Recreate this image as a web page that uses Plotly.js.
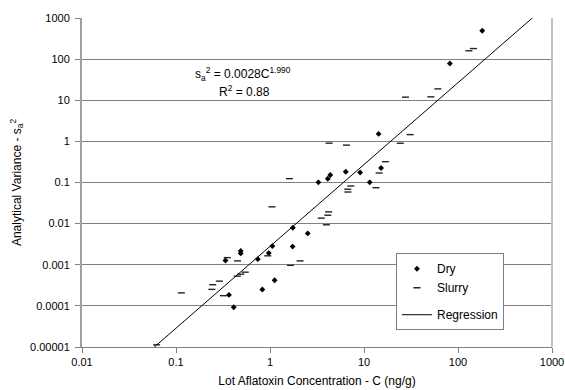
<!DOCTYPE html>
<html>
<head>
<meta charset="utf-8">
<script src="https://cdn.plot.ly/plotly-3.0.1.min.js"></script>
<style>html,body{margin:0;padding:0;background:#fff;}#chart{width:565px;height:390px;}</style>
</head>
<body>
<div id="chart"></div>
<script>
// Dry samples: lot concentration (ng/g) and analytical variance
const dryC = [181, 82, 14.3, 15.2, 9.09, 6.40, 4.38, 4.12, 3.27, 11.5, 2.52, 1.75, 1.74, 1.06, 0.97, 0.742, 0.488, 0.488, 0.336, 1.12, 0.829, 0.366, 0.411];
const dryVar = [491, 78.3, 1.52, 0.2255, 0.175, 0.183, 0.152, 0.123, 0.101, 0.101, 0.00579, 0.00792, 0.00276, 0.00284, 0.00192, 0.00137, 0.00217, 0.00189, 0.00127, 0.000421, 0.000250, 0.000185, 0.0000927];

// Slurry samples
const slurryC = [130.6, 146, 61.1, 51.4, 27.6, 31.0, 24.3, 4.25, 6.50, 16.9, 14.5, 13.4, 7.24, 6.72, 6.74, 1.61, 1.05, 4.20, 4.12, 3.51, 3.98, 0.946, 2.09, 1.65, 0.351, 0.451, 0.545, 0.488, 0.449, 0.289, 0.246, 0.241, 0.319, 0.114, 0.0622];
const slurryVar = [159.7, 180.7, 18.9, 12.1, 11.9, 1.46, 0.901, 0.906, 0.810, 0.321, 0.170, 0.0747, 0.0821, 0.0687, 0.0587, 0.124, 0.0256, 0.0193, 0.0160, 0.0136, 0.00938, 0.00165, 0.00124, 0.000967, 0.00149, 0.00124, 0.000660, 0.000590, 0.000528, 0.000399, 0.000327, 0.000252, 0.000177, 0.000207, 0.0000113];

// Regression s_a^2 = a * C^b
const regA = 0.0028;
const regB = 1.990;
const regC = [0.01, 1000];
const regVar = regC.map(c => regA * Math.pow(c, regB));

const xTicks = [0.01, 0.1, 1, 10, 100, 1000];
const xTickText = ['0.01', '0.1', '1', '10', '100', '1000'];
const yTicks = [0.00001, 0.0001, 0.001, 0.01, 0.1, 1, 10, 100, 1000];
const yTickText = ['0.00001', '0.0001', '0.001', '0.01', '0.1', '1', '10', '100', '1000'];

const font = 'Liberation Sans, Arial, sans-serif';

const traces = [
  {x: dryC, y: dryVar, type: 'scatter', mode: 'markers', name: 'Dry', legendgroup: 'a',
   marker: {symbol: 'diamond', size: 4.5, color: '#000'}},
  {x: slurryC, y: slurryVar, type: 'scatter', mode: 'markers', name: 'Slurry', legendgroup: 'a',
   marker: {symbol: 'line-ew', size: 5, line: {width: 1.4, color: '#222'}, color: '#222'}},
  {x: regC, y: regVar, type: 'scatter', mode: 'lines', name: 'Regression', legendgroup: 'b',
   line: {color: '#000', width: 1}}
];

const layout = {
  width: 565, height: 390,
  margin: {l: 82, r: 13, t: 18, b: 43},
  paper_bgcolor: '#fff', plot_bgcolor: '#fff',
  font: {family: font, size: 11, color: '#000'},
  showlegend: true,
  legend: {x: 0.668, y: 0.168, xanchor: 'left', yanchor: 'middle',
           bordercolor: '#808080', borderwidth: 1, bgcolor: '#fff',
           font: {family: font, size: 12, color: '#000'}, itemwidth: 30,
           traceorder: 'grouped', tracegroupgap: 8},
  xaxis: {type: 'log', range: [-2, 3], tickvals: xTicks, ticktext: xTickText,
          ticks: 'outside', ticklen: 5, tickcolor: '#808080',
          showgrid: false, zeroline: false,
          showline: true, linecolor: '#808080', linewidth: 1, mirror: false,
          title: {text: 'Lot Aflatoxin Concentration - C (ng/g)', font: {family: font, size: 12, color: '#000'}, standoff: 9}},
  yaxis: {type: 'log', range: [-5, 3], tickvals: yTicks, ticktext: yTickText,
          ticks: 'outside', ticklen: 5, tickcolor: '#808080', ticklabelstandoff: 3,
          showgrid: true, gridcolor: '#808080', gridwidth: 1, zeroline: false,
          showline: true, linecolor: '#a0a0a0', linewidth: 2, mirror: false,
          title: {text: 'Analytical Variance - s<sub>a</sub><sup>2</sup>', font: {family: font, size: 12, color: '#000'}, standoff: 6}},
  shapes: [
    {type: 'line', xref: 'paper', yref: 'paper', x0: 1, x1: 1, y0: 0, y1: 1,
     line: {color: '#c0c0c0', width: 2}}
  ],
  annotations: [
    {xref: 'paper', yref: 'paper', x: 0.343, y: 0.83, xanchor: 'center', yanchor: 'middle', showarrow: false,
     text: 's<sub>a</sub><sup>2</sup> = 0.0028C<sup>1.990</sup>', font: {family: font, size: 12, color: '#000'}},
    {xref: 'paper', yref: 'paper', x: 0.345, y: 0.779, xanchor: 'center', yanchor: 'middle', showarrow: false,
     text: 'R<sup>2</sup> = 0.88', font: {family: font, size: 12, color: '#000'}}
  ]
};

Plotly.newPlot('chart', traces, layout, {displayModeBar: false, staticPlot: true});
</script>
</body>
</html>
